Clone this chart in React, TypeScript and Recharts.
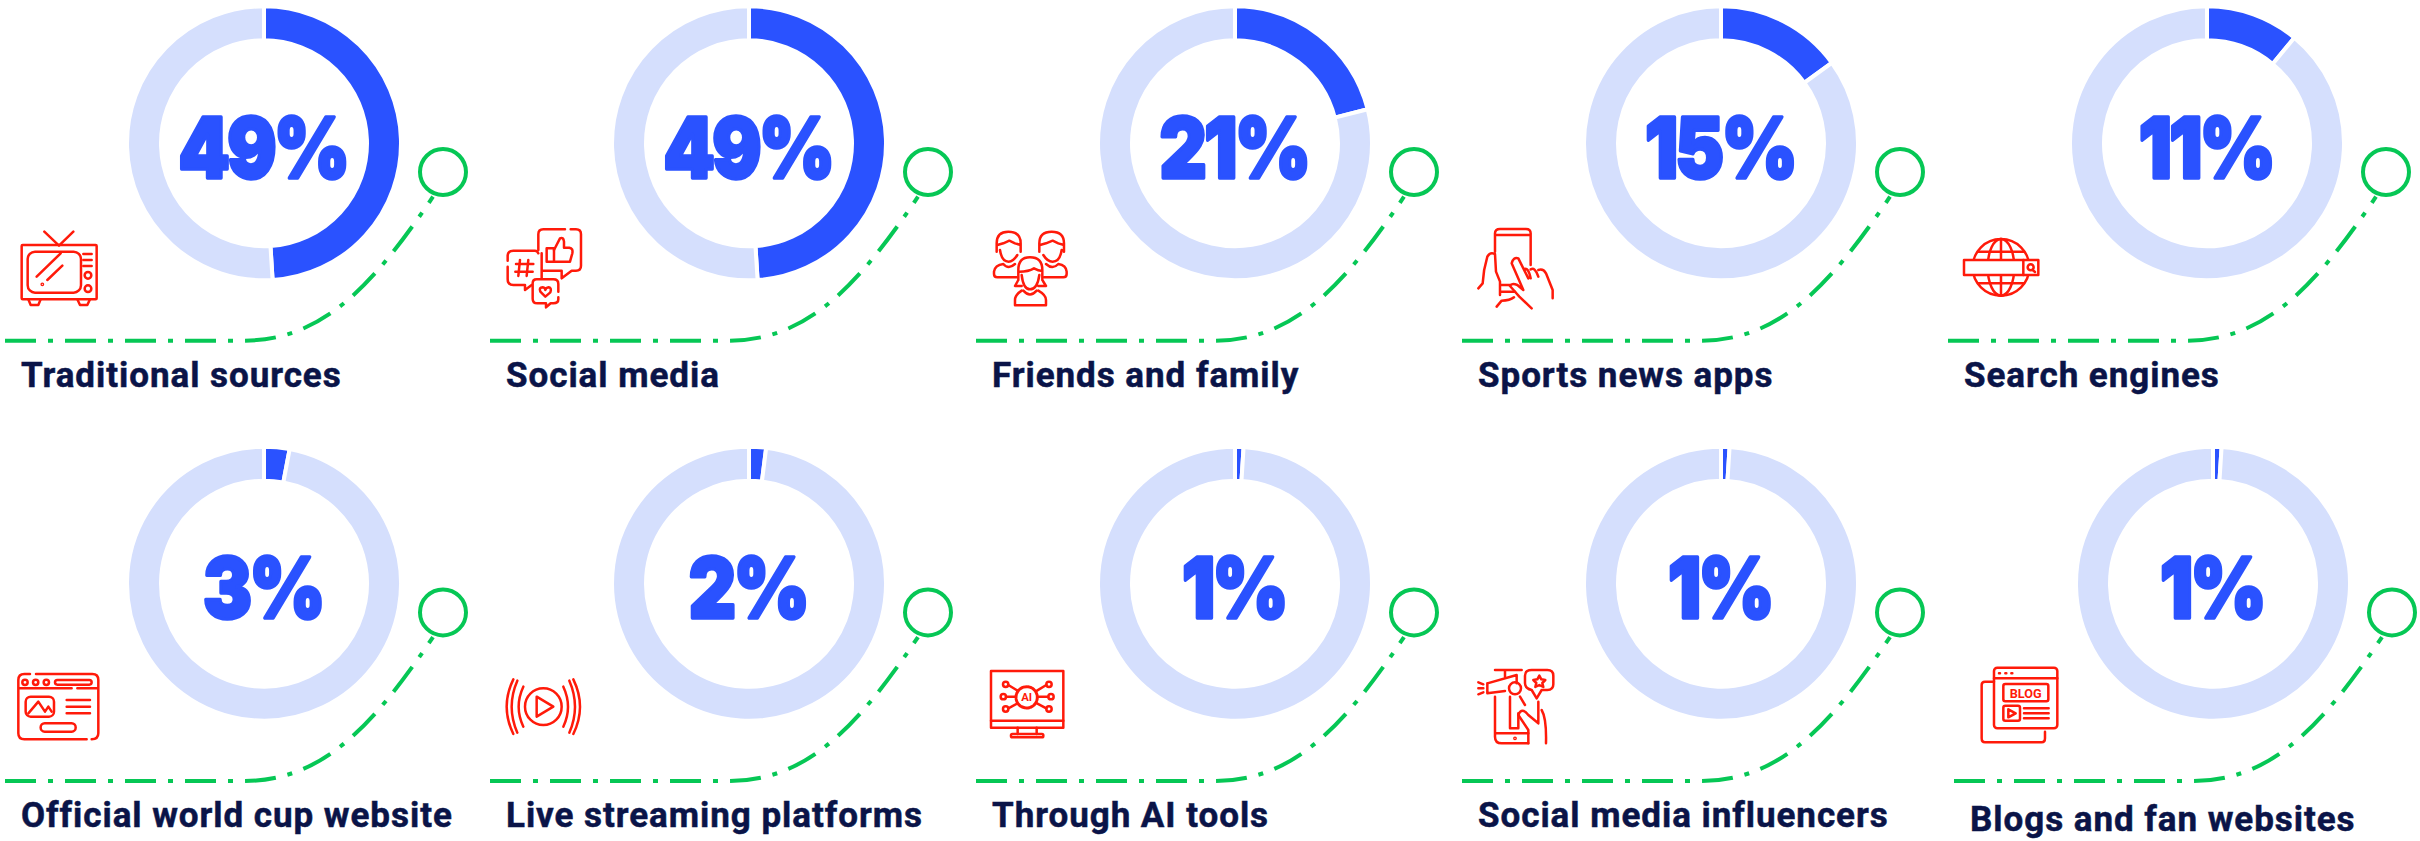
import React from "react";
import { PieChart, Pie, Cell } from "recharts";

const categories = [
  "Traditional sources", "Social media", "Friends and family", "Sports news apps", "Search engines",
  "Official world cup website", "Live streaming platforms", "Through AI tools", "Social media influencers", "Blogs and fan websites",
];
const shares = [49, 49, 21, 15, 11, 3, 2, 1, 1, 1];
const centerX = [264, 749, 1235, 1721, 2207, 264, 749, 1235, 1721, 2213];
const centerY = [143.3, 143.3, 143.3, 143.3, 143.3, 583.7, 583.7, 583.7, 583.7, 583.7];
const labelDy = [243.7, 243.7, 243.7, 243.7, 243.7, 243.7, 243.7, 243.7, 243.7, 247];

const BLUE = "#2a52ff";
const LIGHT = "#d5dffd";
const GREEN = "#06c755";
const NAVY = "#0a1448";
const RED = "#ff1a0a";

const Ico = ({ x, y, children }: { x: number; y: number; children: React.ReactNode }) => (
  <g transform={`translate(${x} ${y}) scale(0.3333)`} fill="none" stroke={RED} strokeWidth={7.5} strokeLinecap="round" strokeLinejoin="round">
    {children}
  </g>
);

const icons = [
  <Ico x={0} y={0} key="tv">
    <rect x={65} y={735} width={225} height={163} rx={3} />
    <rect x={83} y={755} width={160} height={123} rx={22} />
    <path d="M133 695 L177 737 L220 695 M110 830 L182 760 M142 840 L187 797 M250 762H275 M250 780H275 M250 798H275 M85 898 L92 915 H115 L122 898 M232 898 L240 915 H262 L270 898" />
    <circle cx={127} cy={853} r={2} />
    <circle cx={264} cy={826} r={10} />
    <circle cx={264} cy={866} r={10} />
  </Ico>,
  <Ico x={480} y={200} key="social">
    <path d="M255 88 H190 Q175 88 175 103 V150 M272 88 H288 Q303 88 303 103 V197 Q303 212 288 212 H275 L245 235 V212 H188" />
    <rect x={200} y={145} width={22} height={40} />
    <path d="M222 150 L240 115 Q250 110 252 125 V143 H268 Q280 145 277 160 L270 185 H222" />
    <path d="M175 160 Q172 152 165 152 H100 Q83 152 83 168 V182 M83 200 V238 Q83 255 100 255 H135 V270 L155 255 M185 160 V235" />
    <path d="M120 180 L115 228 M145 180 L140 228 M108 192 H160 M106 215 H158" />
    <path d="M170 238 H220 Q235 238 235 252 V275 M235 292 V298 Q235 310 220 310 H212 L198 322 V310 H172 Q158 310 158 296 V250 Q158 238 170 238" />
    <path d="M196 290 L181 275 Q176 262 188 262 Q196 263 196 270 Q198 263 206 262 Q216 264 211 277 Z" />
  </Ico>,
  <Ico x={960} y={200} key="friends">
    <path d="M110 155 V130 Q110 95 145 95 Q182 95 182 130 V155 M112 135 L130 130 L148 122 L165 130 L182 135 M120 150 Q125 185 146 185 Q160 185 172 165 M170 232 H112 Q102 232 102 222 V215 Q105 195 130 192 Q145 210 165 192" />
    <path d="M238 155 V130 Q238 95 275 95 Q312 95 312 130 V155 M240 135 L258 130 L278 122 L295 130 L312 135 M305 150 Q300 185 278 185 Q262 185 250 165 M252 232 H310 Q320 232 320 222 V215 Q318 195 295 192 Q278 210 258 192" />
    <path d="M175 240 V210 Q175 172 210 172 Q247 172 247 210 V240 M178 215 Q205 215 222 205 Q235 212 247 213 M185 225 Q190 268 210 268 Q232 268 238 225 M175 240 L165 258 H185 M247 240 L258 258 H235 M185 272 Q165 285 165 300 V316 H258 V300 Q258 285 235 272 M190 272 Q210 295 230 272" />
  </Ico>,
  <Ico x={1460} y={210} key="apps">
    <path d="M105 125 V70 Q105 57 120 57 H198 Q212 57 212 70 V165 M105 75 H212" />
    <path d="M55 235 L68 220 Q70 180 82 140 Q90 125 105 132 L108 185 L120 215 V255 M120 225 H150 M120 245 H165" />
    <path d="M110 290 L125 272 Q150 272 162 262 M215 295 L178 260 Q165 245 150 228 Q155 218 172 225 L190 240 L155 160 Q160 140 175 145 L205 205 M192 178 Q205 170 212 205 M212 178 Q225 170 235 200 M235 180 Q250 175 258 190 L278 240 V265" />
  </Ico>,
  <Ico x={1945} y={220} key="search">
    <circle cx={168} cy={142} r={85} />
    <ellipse cx={168} cy={142} rx={40} ry={85} />
    <path d="M168 57 V227 M100 95 H236 M100 190 H236" />
    <rect x={57} y={120} width={223} height={45} fill="#fff" />
    <path d="M235 120 V165 M263 150 L270 156" />
    <circle cx={257} cy={142} r={9} />
  </Ico>,
  <Ico x={0} y={660} key="web">
    <path d="M90 42 H73 Q55 42 55 60 V220 Q55 238 73 238 H260 M275 238 Q295 238 295 220 V60 Q295 42 277 42 H108 M55 85 H215 M232 85 H295" />
    <circle cx={75} cy={67} r={8} />
    <circle cx={107} cy={67} r={8} />
    <circle cx={139} cy={67} r={8} />
    <rect x={165} y={60} width={110} height={14} rx={7} />
    <rect x={77} y={110} width={85} height={60} rx={15} />
    <path d="M85 160 L115 125 L135 155 L145 140 L155 155 M200 120 H270 M200 140 H270 M200 160 H270" />
    <rect x={122} y={190} width={105} height={25} rx={12} />
  </Ico>,
  <Ico x={490} y={660} key="live">
    <circle cx={160} cy={140} r={55} />
    <path d="M140 110 L190 140 L140 170 Z" />
    <path d="M70 58 Q30 140 70 222 M82 62 Q48 140 82 218 M100 80 Q72 140 100 200" />
    <path d="M250 58 Q290 140 250 222 M238 62 Q272 140 238 218 M220 80 Q248 140 220 200" />
  </Ico>,
  <Ico x={975} y={660} key="ai">
    <rect x={48} y={33} width={217} height={170} />
    <path d="M48 182 H265 M128 203 V222 M185 203 V222" />
    <rect x={108} y={222} width={97} height={10} rx={4} />
    <circle cx={155} cy={112} r={32} strokeDasharray="10 4" strokeWidth={9} />
    <text x={155} y={124} textAnchor="middle" fontFamily="Roboto" fontWeight={700} fontSize={34} fill={RED} stroke="none">AI</text>
    <circle cx={92} cy={73} r={8} />
    <circle cx={222} cy={73} r={8} />
    <circle cx={85} cy={110} r={8} />
    <circle cx={228} cy={110} r={8} />
    <circle cx={92} cy={147} r={8} />
    <circle cx={222} cy={147} r={8} />
    <path d="M100 75 L128 92 M214 75 L186 92 M93 110 H122 M220 110 H188 M100 145 L128 130 M214 145 L186 130" />
  </Ico>,
  <Ico x={1460} y={655} key="influencer">
    <path d="M105 125 V245 Q105 265 125 265 H205 M105 235 H205 M105 45 H185 M135 45 V65" />
    <path d="M82 85 L170 60 V85 M82 85 V115 L135 108 M55 82 L70 88 M55 100 H70 M55 118 L70 112" />
    <circle cx={165} cy={100} r={18} />
    <path d="M150 125 V220 H175 V175 M180 125 L195 150" />
    <path d="M215 45 H262 Q280 45 280 62 V88 Q280 105 262 105 H245 L230 130 L215 105 Q195 100 195 85 V62 Q195 45 215 45" />
    <path d="M238 62 L244 73 L256 75 L247 84 L250 96 L238 90 L226 96 L229 84 L220 75 L232 73 Z" />
    <path d="M205 265 V225 L175 180 Q185 155 205 180 L235 205 V140 M245 165 Q260 190 258 265" />
    <circle cx={165} cy={250} r={2} />
  </Ico>,
  <Ico x={1950} y={420} key="blog">
    <rect x={132} y={743} width={190} height={182} rx={10} />
    <path d="M132 775 H322 M147 760 H150 M166 760 H169 M184 760 H187" />
    <rect x={160} y={792} width={135} height={52} rx={6} />
    <text x={227} y={833} textAnchor="middle" fontFamily="Roboto" fontWeight={700} fontSize={38} fill={RED} stroke="none">BLOG</text>
    <rect x={160} y={857} width={50} height={45} rx={6} />
    <path d="M175 868 L197 880 L175 892 Z M222 865 H296 M222 880 H296 M222 895 H296" />
    <path d="M132 785 H105 Q95 785 95 795 V955 Q95 967 105 967 H275 Q285 967 285 955 V935" />
  </Ico>,
];

export default function App() {
  return (
    <div style={{ position: "absolute", left: 0, top: 0, width: 2420, height: 841, background: "#fff" }}>
      <PieChart width={2420} height={841} margin={{ top: 0, right: 0, bottom: 0, left: 0 }}>
        {categories.map((name, i) => (
          <Pie
            key={name}
            data={[
              { name, value: shares[i] },
              { name: "Other", value: 100 - shares[i] },
            ]}
            dataKey="value"
            nameKey="name"
            cx={centerX[i]}
            cy={centerY[i]}
            innerRadius={103}
            outerRadius={137}
            startAngle={90}
            endAngle={-270}
            stroke="#fff"
            strokeWidth={4}
            isAnimationActive={false}
            label={false}
            labelLine={false}
          >
            <Cell fill={BLUE} />
            <Cell fill={LIGHT} />
          </Pie>
        ))}
        {categories.map((name, i) => {
          const cx = centerX[i];
          const cy = centerY[i];
          return (
            <g key={name + "-deco"}>
              <g transform={`translate(${cx - 1} ${cy + 34.6}) scale(0.87 1)`}>
                <text textAnchor="middle" fontFamily="Inter" fontWeight={900} fontSize={84} letterSpacing={-3} fill={BLUE} stroke={BLUE} strokeWidth={3.5} strokeLinejoin="round">
                  {shares[i]}%
                </text>
              </g>
              <text x={cx - 243} y={cy + labelDy[i]} fontFamily="Roboto" fontWeight={700} fontSize={35} letterSpacing={0.95} fill={NAVY} stroke={NAVY} strokeWidth={0.5}>
                {name}
              </text>
              <g transform={`translate(${cx} ${cy})`} fill="none" stroke={GREEN}>
                <path d="M-259 197.4 H-21 C56 197.4 106 147 169 53.4" strokeWidth={4} strokeDasharray="31 12 5 12" />
                <circle cx={179} cy={28.7} r={23} strokeWidth={4} />
              </g>
            </g>
          );
        })}
        {icons}
      </PieChart>
    </div>
  );
}
